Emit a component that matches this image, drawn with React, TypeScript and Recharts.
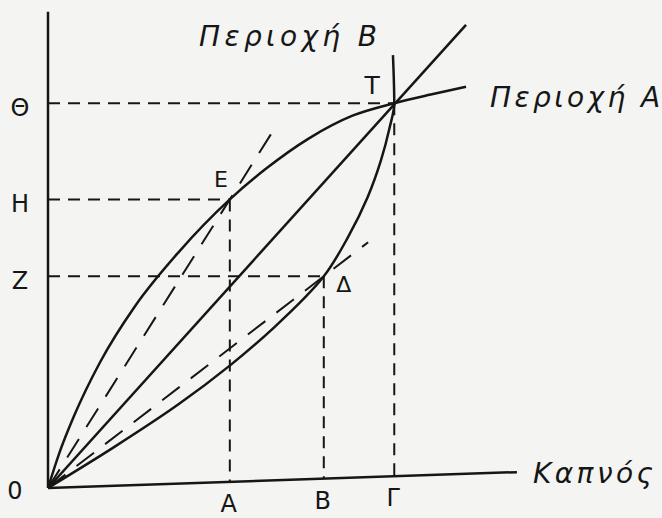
import React from 'react';
import { ComposedChart, Line, XAxis, YAxis, ReferenceLine, ReferenceDot } from 'recharts';

// marks on the tobacco axis and on the vertical axis
const xTicks = [4.18, 6.34, 7.96];
const xLabels = ['A', 'B', 'Γ'];
const yTicks = [0, 4.4, 6, 8];
const yLabels = ['0', 'Z', 'H', 'Θ'];

// Περιοχή A (concave) and Περιοχή B (convex)
const regionA = [
  { x: 0, y: 0 },
  { x: 0.25, y: 0.7 },
  { x: 0.6, y: 1.5 },
  { x: 1.2, y: 2.62 },
  { x: 2.0, y: 3.78 },
  { x: 3.0, y: 4.9 },
  { x: 4.18, y: 6 },
  { x: 5.0, y: 6.63 },
  { x: 6.0, y: 7.27 },
  { x: 7.0, y: 7.74 },
  { x: 7.96, y: 8 },
  { x: 8.8, y: 8.18 },
  { x: 9.61, y: 8.34 },
];
const regionB = [
  { x: 0, y: 0 },
  { x: 1.5, y: 0.84 },
  { x: 3.0, y: 1.74 },
  { x: 4.2, y: 2.56 },
  { x: 5.2, y: 3.34 },
  { x: 6.34, y: 4.4 },
  { x: 6.9, y: 5.22 },
  { x: 7.35, y: 6.05 },
  { x: 7.65, y: 6.8 },
  { x: 7.85, y: 7.48 },
  { x: 7.96, y: 8 },
  { x: 7.93, y: 9 },
];
const diagonal = [
  { x: 0, y: 0 },
  { x: 9.61, y: 9.63 },
];
const rayE = [
  { x: 0, y: 0 },
  { x: 5.17, y: 7.42 },
];
const rayD = [
  { x: 0, y: 0 },
  { x: 7.36, y: 5.11 },
];

const pointE = { x: xTicks[0], y: yTicks[2] };
const pointD = { x: xTicks[1], y: yTicks[1] };
const pointT = { x: xTicks[2], y: yTicks[3] };

// the hand-drawn x axis rises a little to the right
const xAxisEnd = { x: 10.78, y: 0.33 };
const yAxisTop = 9.9;
const axisAt = (x: number) => (x * xAxisEnd.y) / xAxisEnd.x;

const INK = '#161616';
const FONT = '"DejaVu Sans", sans-serif';

const XTick = (props: any) => {
  const { x, y, payload } = props;
  const i = xTicks.indexOf(payload.value);
  const lift = axisAt(payload.value) * 48.1;
  return (
    <text x={x - 1} y={y + 30 - lift} textAnchor="middle" fontFamily={FONT} fontSize={24} fill={INK}>
      {xLabels[i]}
    </text>
  );
};

const YTick = (props: any) => {
  const { x, y, payload } = props;
  const i = yTicks.indexOf(payload.value);
  const isOrigin = payload.value === 0;
  return (
    <text
      x={x - (isOrigin ? 33 : 28)}
      y={y + (isOrigin ? 11 : 13)}
      textAnchor="middle"
      fontFamily={FONT}
      fontSize={24}
      fill={INK}
    >
      {yLabels[i]}
    </text>
  );
};

const tag =
  (text: string, dx: number, dy: number, extra: Record<string, any> = {}) =>
  (p: any) => {
    const vb = p.viewBox || {};
    return (
      <text x={vb.x + dx} y={vb.y + dy} fontFamily={FONT} fontSize={23} fill={INK} {...extra}>
        {text}
      </text>
    );
  };

const hand = { fontStyle: 'italic', fontSize: 28, lengthAdjust: 'spacing' };

export default function App() {
  const last = (arr: { x: number; y: number }[]) => arr[arr.length - 1];
  const guide = { stroke: INK, strokeWidth: 2, strokeDasharray: '12 8' };

  return (
    <div style={{ position: 'absolute', left: 0, top: 0, width: 662, height: 518, background: '#f4f4f2' }}>
      <ComposedChart width={662} height={518} margin={{ top: 7, right: 135.5, left: 0, bottom: 0 }}>
        <XAxis
          type="number"
          dataKey="x"
          domain={[0, 11]}
          ticks={xTicks}
          axisLine={false}
          tickLine={false}
          tickSize={0}
          tickMargin={0}
          height={30}
          tick={<XTick />}
          allowDataOverflow
        />
        <YAxis
          type="number"
          domain={[0, 10]}
          ticks={yTicks}
          axisLine={false}
          tickLine={false}
          tickSize={0}
          tickMargin={0}
          width={48}
          tick={<YTick />}
          allowDataOverflow
        />

        {/* axes */}
        <ReferenceLine segment={[{ x: 0, y: 0 }, { x: 0, y: yAxisTop }]} stroke={INK} strokeWidth={2.5} />
        <ReferenceLine segment={[{ x: 0, y: 0 }, xAxisEnd]} stroke={INK} strokeWidth={2.5} />

        {/* dashed guides to the axes */}
        <ReferenceLine segment={[{ x: 0, y: pointT.y }, pointT]} {...guide} />
        <ReferenceLine segment={[{ x: 0, y: pointE.y }, pointE]} {...guide} />
        <ReferenceLine segment={[{ x: 0, y: pointD.y }, pointD]} {...guide} />
        <ReferenceLine segment={[pointE, { x: pointE.x, y: axisAt(pointE.x) }]} {...guide} />
        <ReferenceLine segment={[pointD, { x: pointD.x, y: axisAt(pointD.x) }]} {...guide} />
        <ReferenceLine segment={[pointT, { x: pointT.x, y: axisAt(pointT.x) }]} {...guide} />

        <Line data={rayE} dataKey="y" type="linear" stroke={INK} strokeWidth={2} strokeDasharray="22 14" dot={false} activeDot={false} isAnimationActive={false} />
        <Line data={rayD} dataKey="y" type="linear" stroke={INK} strokeWidth={2} strokeDasharray="22 14" dot={false} activeDot={false} isAnimationActive={false} />
        <Line data={diagonal} dataKey="y" type="linear" stroke={INK} strokeWidth={2.5} dot={false} activeDot={false} isAnimationActive={false} />
        <Line data={regionA} dataKey="y" type="monotoneX" stroke={INK} strokeWidth={2.5} dot={false} activeDot={false} isAnimationActive={false} />
        <Line data={regionB} dataKey="y" type="monotoneY" stroke={INK} strokeWidth={2.5} dot={false} activeDot={false} isAnimationActive={false} />

        {/* point and curve labels */}
        <ReferenceDot x={pointT.x} y={pointT.y} r={0} label={{ content: tag('T', -22, -9, { textAnchor: 'middle', fontSize: 25 }) }} />
        <ReferenceDot x={pointE.x} y={pointE.y} r={0} label={{ content: tag('E', -9, -12, { textAnchor: 'middle', fontSize: 22 }) }} />
        <ReferenceDot x={pointD.x} y={pointD.y} r={0} label={{ content: tag('Δ', 20, 16, { textAnchor: 'middle', fontSize: 22 }) }} />
        <ReferenceDot x={last(regionB).x} y={last(regionB).y} r={0} label={{ content: tag('Περιοχή B', -194, -9, { ...hand, textLength: 178 }) }} />
        <ReferenceDot x={last(regionA).x} y={last(regionA).y} r={0} label={{ content: tag('Περιοχή A', 24, 20, { ...hand, textLength: 170 }) }} />
        <ReferenceDot x={xAxisEnd.x} y={xAxisEnd.y} r={0} label={{ content: tag('Καπνός', 16, 11, { ...hand, textLength: 120 }) }} />
      </ComposedChart>
    </div>
  );
}
